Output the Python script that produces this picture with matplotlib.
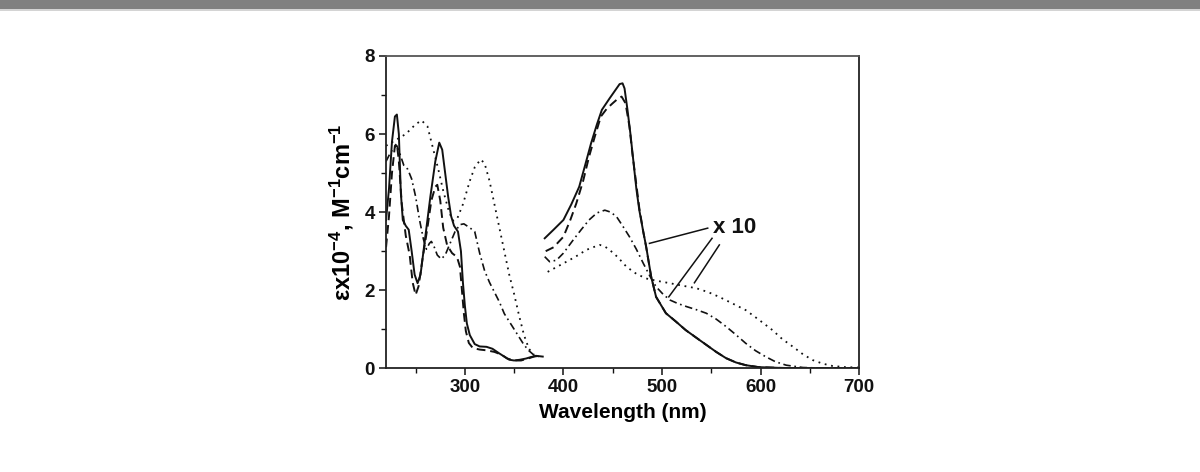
import matplotlib
matplotlib.use("Agg")
import matplotlib.pyplot as plt
from matplotlib.patches import Rectangle
from matplotlib.ticker import MultipleLocator

plt.rcParams['font.family'] = ['Liberation Sans', 'DejaVu Sans']
plt.rcParams['font.weight'] = 'bold'
plt.rcParams['mathtext.fontset'] = 'custom'
plt.rcParams['mathtext.rm'] = 'Liberation Sans:bold'
plt.rcParams['mathtext.it'] = 'Liberation Sans:bold'
plt.rcParams['mathtext.bf'] = 'Liberation Sans:bold'
plt.rcParams['mathtext.default'] = 'rm'

# ---- UV region (220-380 nm) ----
uv_solid_wl = [220, 223, 226, 229, 231, 233, 235, 237, 240, 243, 246, 249, 252, 255, 260, 265, 270, 274,
               277, 280, 283, 286, 289, 293, 296, 298, 300, 302, 305, 310, 315, 322, 328, 335, 340, 345,
               350, 356, 362, 366, 372, 379]
uv_solid = [3.8, 4.6, 5.8, 6.45, 6.5, 6.0, 4.5, 3.8, 3.65, 3.55, 3.0, 2.4, 2.18, 2.4, 3.4, 4.4, 5.3, 5.78,
            5.6, 5.0, 4.4, 3.9, 3.65, 3.5, 3.0, 2.2, 1.6, 1.15, 0.85, 0.62, 0.56, 0.55, 0.5, 0.38, 0.3, 0.22,
            0.2, 0.22, 0.25, 0.28, 0.32, 0.3]

uv_dash_wl = [220, 223, 226, 229, 231, 233, 236, 240, 244, 247, 250, 253, 257, 262, 266, 270, 272, 275,
              278, 282, 287, 292, 295, 297, 299, 301, 304, 308, 315, 322, 330, 337, 343, 350, 357, 364,
              370, 378]
uv_dash = [3.1, 3.9, 5.0, 5.7, 5.75, 5.3, 4.2, 3.4, 2.9, 2.2, 1.88, 2.1, 2.8, 3.6, 4.3, 4.65, 4.7, 4.3,
           3.6, 3.15, 2.95, 2.85, 2.6, 2.0, 1.4, 0.95, 0.65, 0.52, 0.48, 0.46, 0.42, 0.35, 0.25, 0.2, 0.2, 0.25,
           0.3, 0.33]

uv_dashdot_wl = [220, 224, 228, 231, 234, 238, 242, 246, 250, 254, 258, 261, 264, 266, 269, 272, 276, 280,
                 285, 290, 295, 299, 305, 310, 315, 320, 325, 330, 335, 340, 345, 350, 355, 360, 365, 370, 375]
uv_dashdot = [5.3, 5.5, 5.65, 5.7, 5.5, 5.2, 5.1, 4.85, 4.4, 3.8, 3.3, 3.05, 3.2, 3.25, 3.1, 2.9, 2.8, 2.9,
              3.2, 3.5, 3.68, 3.7, 3.6, 3.5, 2.95, 2.5, 2.2, 1.95, 1.7, 1.4, 1.2, 1.0, 0.8, 0.6, 0.45, 0.34, 0.3]

uv_dot_wl = [220, 230, 240, 250, 256, 262, 268, 273, 278, 284, 288, 292, 298, 305, 310, 316, 320, 325,
             330, 335, 340, 345, 350, 355, 360, 365, 370]
uv_dot = [5.7, 5.85, 6.0, 6.25, 6.35, 6.2, 5.6, 5.1, 4.55, 4.0, 3.78, 3.82, 4.2, 4.8, 5.15, 5.35, 5.25, 4.8,
          4.2, 3.6, 3.0, 2.4, 1.9, 1.35, 0.85, 0.5, 0.35]

# ---- visible region (380-700 nm, x10) ----
vis_solid_wl = [381, 390, 400, 408, 416, 422, 428, 434, 439, 447, 452, 457, 460, 462, 465, 468, 471, 474,
                477, 481, 484, 489, 494, 504, 514, 524, 535, 545, 555, 565, 575, 585, 598, 620, 650, 700]
vis_solid = [3.33, 3.55, 3.8, 4.2, 4.65, 5.2, 5.76, 6.25, 6.62, 6.92, 7.1, 7.28, 7.3, 7.17, 6.62, 6.0, 5.3, 4.6,
             4.05, 3.5, 3.11, 2.35, 1.83, 1.41, 1.2, 0.98, 0.78, 0.6, 0.42, 0.26, 0.15, 0.08, 0.03, 0.01, 0.0, 0.0]

vis_dash_wl = [382, 390, 400, 407, 413, 420, 426, 432, 438, 444, 450, 455, 459, 463, 467, 470, 474, 477,
               481, 484, 489, 494, 504, 514, 524, 535, 545, 555, 565, 575, 585, 598, 620, 650, 700]
vis_dash = [3.0, 3.1, 3.37, 3.8, 4.22, 4.8, 5.42, 5.95, 6.45, 6.65, 6.79, 6.9, 6.96, 6.79, 6.19, 5.5, 4.7, 4.1,
            3.5, 3.1, 2.35, 1.83, 1.41, 1.2, 0.98, 0.78, 0.6, 0.42, 0.26, 0.15, 0.08, 0.03, 0.01, 0.0, 0.0]

vis_dashdot_wl = [381, 386, 393, 400, 410, 418, 426, 434, 442, 448, 454, 460, 467, 474, 481, 488, 494, 501,
                  508, 516, 525, 535, 545, 555, 565, 575, 585, 595, 605, 615, 626, 643, 670, 700]
vis_dashdot = [2.86, 2.73, 2.77, 2.95, 3.29, 3.55, 3.8, 3.98, 4.05, 4.0, 3.88, 3.65, 3.37, 3.05, 2.69, 2.35,
               2.09, 1.9, 1.75, 1.66, 1.58, 1.5, 1.41, 1.26, 1.07, 0.86, 0.64, 0.45, 0.3, 0.17, 0.08, 0.02, 0.0, 0.0]

vis_dot_wl = [384, 395, 406, 415, 423, 430, 437, 442, 447, 455, 464, 474, 484, 495, 508, 520, 535, 547,
              558, 570, 585, 598, 612, 622, 633, 643, 653, 663, 673, 686, 700]
vis_dot = [2.47, 2.62, 2.77, 2.9, 3.03, 3.1, 3.16, 3.12, 3.03, 2.85, 2.6, 2.42, 2.3, 2.24, 2.18, 2.12, 2.05,
           1.95, 1.83, 1.68, 1.49, 1.25, 0.98, 0.75, 0.55, 0.36, 0.21, 0.12, 0.06, 0.03, 0.02]

x_ticks = [300, 400, 500, 600, 700]
y_ticks = [0, 2, 4, 6, 8]

fig = plt.figure(figsize=(12, 4.72), dpi=100)
fig.patches.append(Rectangle((0, 1 - 9 / 472), 1, 9 / 472, transform=fig.transFigure,
                             facecolor='#808080', edgecolor='none', zorder=0))
fig.patches.append(Rectangle((0, 1 - 11 / 472), 1, 2 / 472, transform=fig.transFigure,
                             facecolor='#d4d4d4', edgecolor='none', zorder=0))

ax = fig.add_axes([0.3217, 0.2197, 0.3942, 0.6617])
c = '#111111'
lw = 1.4
sty_solid = dict(color=c, lw=lw, linestyle='-')
sty_dash = dict(color=c, lw=lw, linestyle=(0, (4.5, 2.5)))
sty_dashdot = dict(color=c, lw=1.2, linestyle=(0, (4.5, 2.2, 1, 2.2)))
sty_dot = dict(color=c, lw=1.3, linestyle=(0, (1, 2.6)))

ax.plot(uv_solid_wl, uv_solid, **sty_solid)
ax.plot(uv_dash_wl, uv_dash, **sty_dash)
ax.plot(uv_dashdot_wl, uv_dashdot, **sty_dashdot)
ax.plot(uv_dot_wl, uv_dot, **sty_dot)
ax.plot(vis_solid_wl, vis_solid, **sty_solid)
ax.plot(vis_dash_wl, vis_dash, **sty_dash)
ax.plot(vis_dashdot_wl, vis_dashdot, **sty_dashdot)
ax.plot(vis_dot_wl, vis_dot, **sty_dot)

# "x 10" annotation with pointer lines
ax.text(574, 3.6, 'x 10', fontsize=16, fontweight='bold', ha='center', va='center', color=c)
ax.plot([487.3, 546.4], [3.2, 3.59], color=c, lw=1.1)
ax.plot([506.9, 550.8], [1.83, 3.33], color=c, lw=1.1)
ax.plot([532.9, 558.2], [2.19, 3.16], color=c, lw=1.1)

ax.set_xlim(220, 700)
ax.set_ylim(0, 8)
ax.set_xticks(x_ticks)
ax.set_yticks(y_ticks)
ax.xaxis.set_minor_locator(MultipleLocator(50))
ax.yaxis.set_minor_locator(MultipleLocator(1))
ax.tick_params(which='major', direction='out', length=5, width=1.1, labelsize=13.5, pad=3, colors=c)
ax.tick_params(which='minor', direction='out', length=3.5, width=1.0, colors=c)
for lab in ax.get_xticklabels() + ax.get_yticklabels():
    lab.set_fontweight('bold')
for s in ax.spines.values():
    s.set_linewidth(1.3)
    s.set_color('#222222')
ax.spines['top'].set_color('#555555')

ax.set_xlabel('Wavelength (nm)', fontsize=15, fontweight='bold', labelpad=5)
ax.set_ylabel('εx10$^{-4}$, M$^{-1}$cm$^{-1}$', fontsize=17, fontweight='bold', labelpad=6)

fig.savefig('out.png', dpi=100)
